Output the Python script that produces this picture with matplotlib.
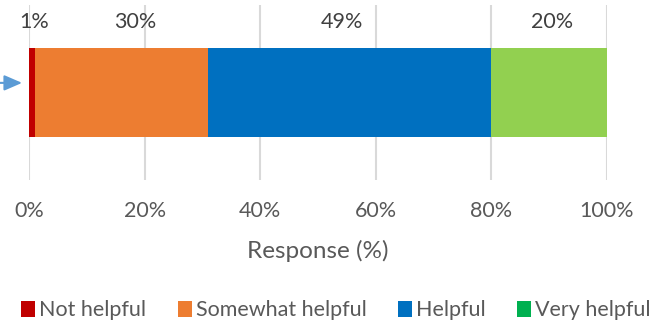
import matplotlib
matplotlib.use("Agg")
import matplotlib.pyplot as plt
from matplotlib.patches import Patch

plt.rcParams['font.family'] = ['Lato', 'DejaVu Sans']

categories = ["Not helpful", "Somewhat helpful", "Helpful", "Very helpful"]
values = [1, 30, 49, 20]
bar_colors = ["#C00000", "#ED7D31", "#0070C0", "#92D050"]
legend_colors = ["#C00000", "#ED7D31", "#0070C0", "#00B050"]
label_x = [0.9, 18.3, 54.2, 90.5]
ticks = [0, 20, 40, 60, 80, 100]
text_color = "#595959"

fig = plt.figure(figsize=(6.72, 3.2), dpi=100)
ax = fig.add_axes([29 / 672, 1 - 180 / 320, 578 / 672, 175 / 320])

left = 0
for v, c in zip(values, bar_colors):
    ax.barh(0, v, left=left, height=1.02, color=c, zorder=2)
    left += v

for v, x in zip(values, label_x):
    ax.text(x, 0.80, f"{v}%", ha="center", va="center", fontsize=15.5, color="#404040")

ax.set_xlim(0, 100)
ax.set_ylim(-1, 1)
ax.set_xticks(ticks)
ax.set_xticklabels([f"{t}%" for t in ticks], fontsize=15.5, color=text_color)
ax.tick_params(axis="x", length=0, pad=15)
ax.set_yticks([])
ax.grid(axis="x", color="#D9D9D9", linewidth=1.5, zorder=0)
for s in ax.spines.values():
    s.set_visible(False)
ax.set_xlabel("Response (%)", fontsize=17.5, color=text_color, labelpad=14)

# small arrow pointing at the bar from the left margin
ax.annotate("", xy=(-1.2, 0.11), xytext=(-5.1, 0.11), annotation_clip=False,
            arrowprops=dict(arrowstyle="-|>,head_length=0.6,head_width=0.26",
                            color="#5B9BD5", lw=1.5, mutation_scale=18,
                            shrinkA=0, shrinkB=0))

handles = [Patch(facecolor=c, label=n) for n, c in zip(categories, legend_colors)]
fig.legend(handles=handles, loc="center", bbox_to_anchor=(0.5, 0.03), ncol=4,
           frameon=False, fontsize=15.5, handlelength=0.65, handleheight=0.75,
           handletextpad=0.2, columnspacing=1.45, labelcolor=text_color,
           borderaxespad=0, borderpad=0)

fig.savefig("out.png", dpi=100)
